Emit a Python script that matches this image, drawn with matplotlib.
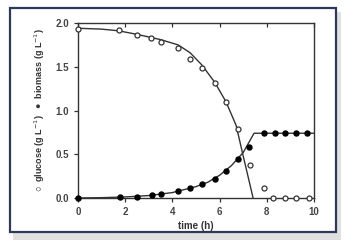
import matplotlib
matplotlib.use("Agg")
import matplotlib.pyplot as plt
from matplotlib.patches import Rectangle

# measured points
glc_t = [0, 1.74, 2.5, 3.1, 3.5, 4.24, 4.75, 5.25, 5.8, 6.27, 6.8, 7.3, 7.9, 8.26, 8.77, 9.24, 9.8]
glc = [1.93, 1.92, 1.86, 1.83, 1.78, 1.71, 1.59, 1.49, 1.31, 1.10, 0.79, 0.38, 0.11, 0.0, 0.0, 0.0, 0.0]

bio_t = [0, 1.78, 2.5, 3.12, 3.5, 4.24, 4.75, 5.25, 5.8, 6.27, 6.8, 7.23, 7.9, 8.35, 8.77, 9.24, 9.7]
bio = [0.0, 0.01, 0.017, 0.032, 0.043, 0.075, 0.11, 0.16, 0.22, 0.31, 0.45, 0.58, 0.74, 0.74, 0.74, 0.74, 0.74]

# model curves
glc_fit_t = [0, 1, 1.74, 2.5, 3.5, 4.24, 4.75, 5.25, 5.8, 6.27, 6.7, 7.0, 7.42]
glc_fit = [1.94, 1.93, 1.91, 1.87, 1.81, 1.75, 1.66, 1.52, 1.32, 1.10, 0.83, 0.48, 0.0]

bio_fit_t = [0, 1, 2, 3, 4, 5, 5.5, 6, 6.5, 7, 7.46, 10]
bio_fit = [0.0, 0.004, 0.012, 0.028, 0.062, 0.13, 0.18, 0.26, 0.37, 0.52, 0.74, 0.74]

plt.rcParams['font.family'] = ['Liberation Sans', 'DejaVu Sans']

fig = plt.figure(figsize=(3.58, 2.5), dpi=100)
fig.patch.set_facecolor('white')

# framed picture look
fig.patches.append(Rectangle((13 / 358, 1 - 240 / 250), 328 / 358, 228 / 250,
                             transform=fig.transFigure, facecolor='#cccccc',
                             edgecolor='none', alpha=0.6, zorder=0))
fig.patches.append(Rectangle((10 / 358, 1 - 232 / 250), 326 / 358, 224 / 250,
                             transform=fig.transFigure, facecolor='white',
                             edgecolor='#2e3a55', linewidth=1.6, zorder=1))

ax = fig.add_axes([78 / 358, 1 - 198 / 250, 236 / 358, 175 / 250])
ax.set_zorder(2)

ax.plot(glc_fit_t, glc_fit, color='#333333', lw=1.0)
ax.plot(bio_fit_t, bio_fit, color='#333333', lw=1.0)
ax.plot(glc_t, glc, 'o', mfc='white', mec='#333333', ms=3.6, mew=0.9, clip_on=False, zorder=3)
ax.plot(bio_t, bio, 'o', mfc='black', mec='black', ms=3.6, clip_on=False, zorder=3)

ax.set_xlim(0, 10)
ax.set_ylim(0, 2.0)
ax.set_xticks([0, 2, 4, 6, 8, 10])
ax.set_yticks([0, 0.5, 1.0, 1.5, 2.0])
ax.set_yticklabels(['0.0', '0.5', '1.0', '1.5', '2.0'])
for s in ax.spines.values():
    s.set_color('#333333')
    s.set_linewidth(1.0)
ax.tick_params(axis='both', labelsize=7, width=0.9, length=3, colors='#333333',
               labelcolor='#444444', direction='out')
for lab in ax.get_xticklabels() + ax.get_yticklabels():
    lab.set_fontweight('bold')

# inward ticks on the top edge
top = ax.secondary_xaxis('top')
top.set_xticks([0, 2, 4, 6, 8, 10])
top.tick_params(direction='in', length=3, width=0.9, colors='#333333', labeltop=False)
top.spines['top'].set_visible(False)

ax.set_xlabel('time (h)', fontsize=7, fontweight='bold', color='#333333', labelpad=3)
ax.set_ylabel('○  glucose (g L$^{-1}$)   ●  biomass (g L$^{-1}$)',
              fontsize=6.5, fontweight='bold', color='#333333', labelpad=6)

fig.savefig('out.png', dpi=100)
